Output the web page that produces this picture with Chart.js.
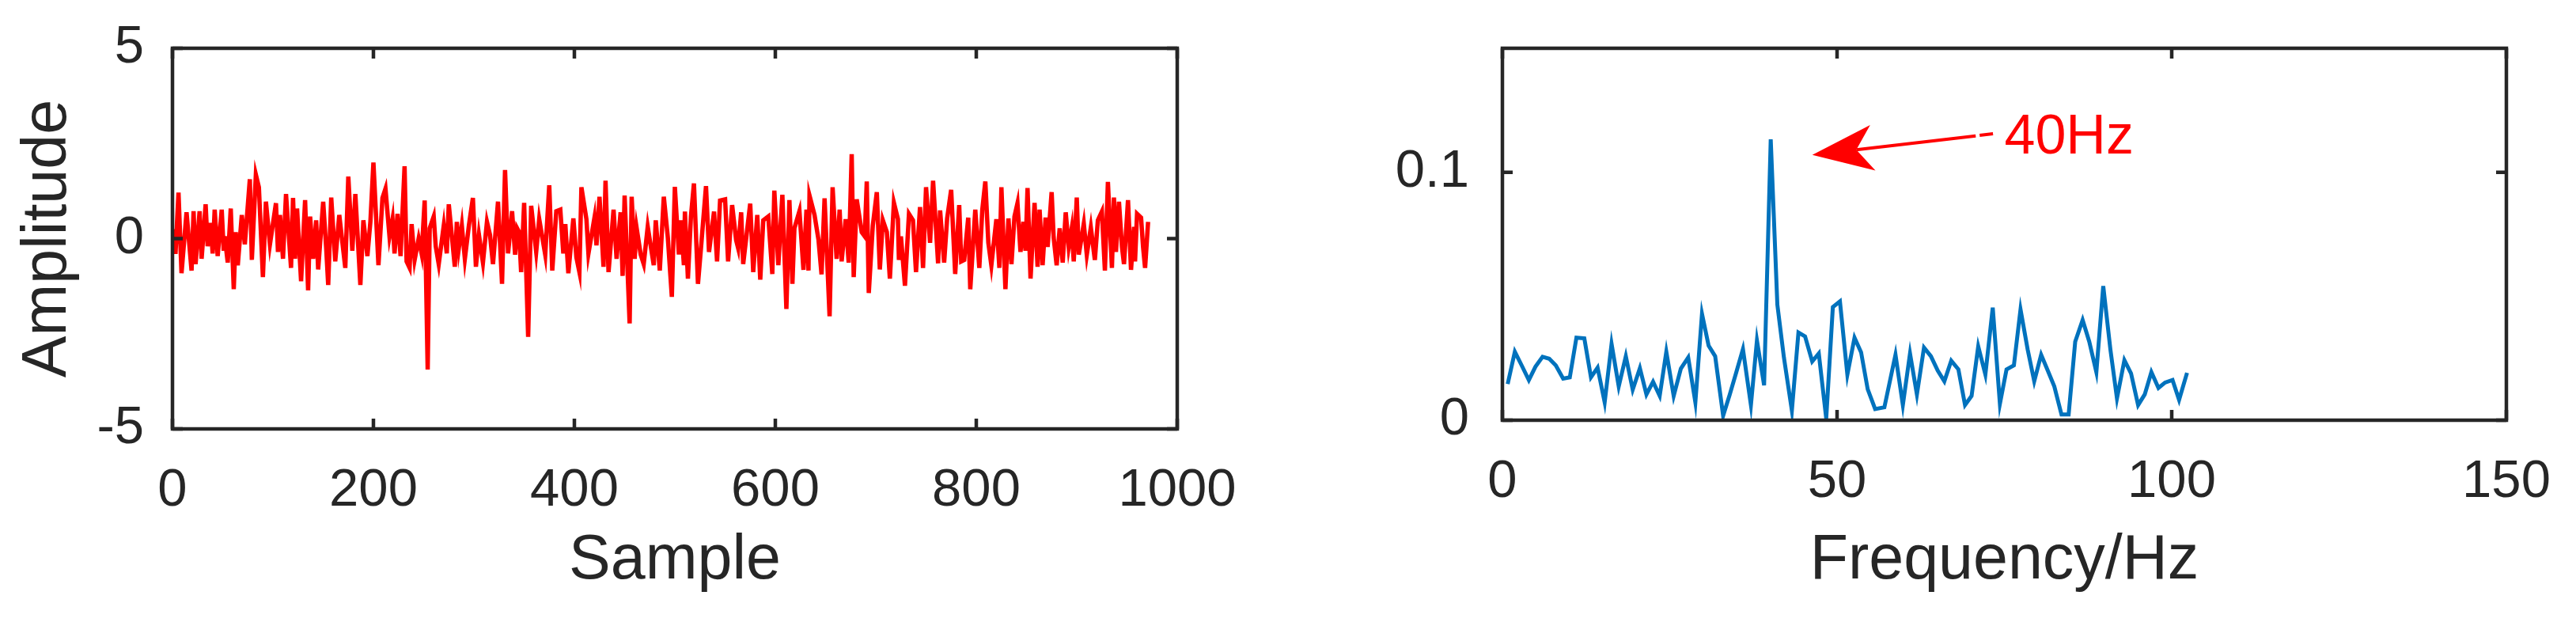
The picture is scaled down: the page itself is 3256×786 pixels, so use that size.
<!DOCTYPE html>
<html>
<head>
<meta charset="utf-8">
<script src="https://cdn.jsdelivr.net/npm/chart.js@4"></script>
<style>
	html, body { margin: 0; padding: 0; background: #fff; }
	body { width: 3256px; height: 786px; position: relative; overflow: hidden; }
	.box { position: absolute; top: 0; height: 786px; }
	#leftBox { left: 0; width: 1560px; }
	#rightBox { left: 1600px; width: 1656px; }
</style>
</head>
<body>
<div class="box" id="leftBox"><canvas id="signalChart"></canvas></div>
<div class="box" id="rightBox"><canvas id="spectrumChart"></canvas></div>
<script>
// Time signal (sample index / amplitude)
const sampleIdx = [0,3,6,9,14,19,21,23,27,29,33,35,38,40,42,45,49,51,52,55,58,61,63,65,69,72,77,79,83,86,90,93,97,103,105,107,110,113,118,120,122,124,128,132,135,137,140,143,145,150,153,155,158,162,166,172,175,179,182,187,190,194,197,200,205,209,212,216,219,221,224,227,231,233,236,238,241,245,248,251,254,256,260,262,265,270,273,275,281,283,285,288,291,295,299,302,305,309,313,316,319,324,328,331,
	334,338,341,343,345,347,350,354,357,362,365,371,375,378,382,386,389,391,394,399,402,405,407,412,414,420,422,425,429,431,434,439,442,446,448,450,455,457,460,462,466,469,473,479,481,485,489,493,497,500,504,506,509,510,513,516,519,523,526,531,534,539,542,545,550,553,557,561,563,566,568,575,578,582,585,588,593,597,599,603,607,611,614,617,619,624,628,631,633,634,639,643,646,649,654,657,661,
	664,666,670,673,676,678,681,686,689,691,693,697,701,704,707,711,714,718,722,723,725,729,733,737,740,744,747,750,754,757,762,764,768,771,775,779,783,785,788,792,794,799,803,806,809,812,815,820,823,825,829,832,835,838,841,844,847,849,851,854,858,861,863,866,869,871,875,877,880,883,886,889,892,895,897,900,902,907,910,914,918,921,925,928,931,935,937,939,942,945,947,951,954,957,958,960,964,966,968,971];
const amplitude = [0.25,-0.4,1.21,-0.91,0.69,-0.84,0.72,-0.67,0.72,-0.53,0.9,-0.2,0.41,-0.39,0.76,-0.46,0.76,-0.32,0.06,-0.63,0.79,-1.33,0.17,-0.7,0.62,-0.15,1.56,-0.56,1.68,1.35,-1.01,0.97,-0.15,0.93,-0.35,0.62,-0.53,1.17,-0.77,1.07,-0.53,0.79,-1.12,1.01,-1.36,0.58,-0.53,0.48,-0.81,0.97,-0.25,-1.22,1.08,-0.6,0.62,-0.77,1.63,-0.32,1.17,-1.22,0.48,-0.46,0.45,2.0,-0.7,1.07,1.31,0.06,0.51,-0.39,0.65,-0.46,1.9,-0.6,-0.77,0.38,-0.56,0.0,-0.4,1.0,-3.44,0.27,0.58,-0.2,-0.67,0.34,-0.39,0.9,-0.74,0.44,-0.25,0.34,-0.53,0.34,1.07,-0.74,0.1,-0.63,0.44,0.1,-0.67,0.97,-1.19,1.8,
	-0.39,0.72,-0.42,0.27,0.17,-0.88,0.94,-2.58,0.86,-0.35,0.51,-0.42,1.4,-0.84,0.72,0.76,-0.39,0.38,-0.91,0.53,-0.49,-0.88,1.35,0.51,-0.39,0.55,-0.18,1.1,-0.74,1.52,-0.88,0.76,-0.53,0.69,-0.98,1.13,-2.23,1.1,-0.53,0.27,-0.42,-0.67,0.31,-0.7,0.48,-0.84,1.1,0.03,-1.53,1.36,-0.42,0.48,-0.7,0.71,-1.05,0.58,1.45,-1.19,-0.25,1.38,-0.35,0.71,-0.6,1.0,1.03,-0.6,0.88,-0.04,-0.25,0.69,-0.67,0.92,-0.88,0.62,-1.08,0.48,0.58,-0.93,1.26,-0.7,1.15,-1.85,1.01,-1.19,0.27,0.72,-0.82,0.76,-0.84,1.13,0.62,-0.04,-0.94,1.06,-2.04,1.35,-0.53,
	0.76,-0.6,0.51,-0.63,2.22,-1.01,1.03,0.17,0.06,1.5,-1.43,0.34,1.22,-0.81,0.48,0.17,-1.05,0.94,0.51,-0.56,0.06,-1.24,0.65,0.48,-0.88,0.83,-0.77,1.35,-0.11,1.52,-0.65,0.74,-0.63,0.53,1.28,-0.93,0.88,-0.6,-0.56,0.55,-1.33,0.76,-0.77,0.76,1.5,-0.11,-0.7,0.51,-0.77,1.35,-1.33,0.53,-0.67,0.58,0.93,-0.35,0.44,-0.32,1.33,-1.05,0.94,-0.74,0.76,-0.7,0.55,-0.22,1.22,0.03,-0.7,0.27,-0.63,0.69,-0.22,0.27,-0.6,1.08,-0.42,0.39,-0.42,0.29,-0.56,0.48,0.71,-0.84,1.49,-0.77,1.08,-0.35,0.97,-0.22,-0.67,1.01,-0.82,0.31,-0.6,0.65,0.55,-0.22,-0.77,0.44];

// Spectrum (frequency in Hz / magnitude)
const specHz = [0.79,1.86,2.88,3.95,4.94,6.0,6.99,7.98,9.08,10.07,11.06,12.24,13.23,14.22,15.28,16.31,17.38,18.44,19.47,20.54,21.52,22.51,23.5,24.49,25.59,26.66,27.76,28.83,29.82,30.81,31.79,32.98,33.97,34.95,35.94,37.13,38.03,39.1,40.09,41.08,42.06,43.25,44.23,45.22,46.29,47.27,48.38,49.37,50.43,51.54,52.61,53.59,54.58,55.69,57.07,58.73,59.83,60.9,61.93,62.99,64.02,65.04,66.03,67.06,68.13,69.12,70.1,71.09,72.16,73.26,74.33,75.32,76.42,77.41,78.48,79.46,80.49,81.48,82.46,83.53,84.6,85.58,86.69,87.68,88.74,89.77,90.84,91.82,92.93,93.92,94.98,95.97,96.96,98.02,99.01,100.12,101.1,102.29];
const specAmp = [0.0146,0.0276,0.0221,0.0162,0.0216,0.0256,0.0248,0.0221,0.0168,0.0173,0.0333,0.0330,0.0173,0.0212,0.0072,0.0308,0.0136,0.0258,0.0123,0.0210,0.0104,0.0155,0.0098,0.0276,0.0098,0.0208,0.0253,0.0072,0.0429,0.0301,0.0258,0.0018,0.0104,0.0194,0.0287,0.0061,0.0322,0.0141,0.1133,0.0466,0.0253,0.0039,0.0354,0.0338,0.0237,0.0269,0.0007,0.0456,0.0479,0.0184,0.0333,0.0274,0.0125,0.0045,0.0052,0.0264,0.0061,0.0269,0.0104,0.0293,0.0258,0.0200,0.0157,0.0240,0.0205,0.0061,0.0098,0.0298,0.0184,0.0454,0.0066,0.0205,0.0221,0.0447,0.0285,0.0157,0.0264,0.0200,0.0136,0.0023,0.0023,0.0317,0.0404,0.0317,0.0194,0.0541,0.0285,0.0088,0.0242,0.0189,0.0061,0.0104,0.0194,0.0130,0.0152,0.0162,0.0082,0.0191];

// Axis ticks
const signalXTicks = [0, 200, 400, 600, 800, 1000];
const signalYTicks = [-5, 0, 5];
const specXTicks = [0, 50, 100, 150];
const specYTicks = [0, 0.1];

// Annotation (data coordinates of the right plot)
const peakLabel = '40Hz';
const arrowTip = { x: 46.3, y: 0.107 };
const arrowTail = { x: 73.3, y: 0.1155 };
const labelPos = { x: 75.0, y: 0.1075 };

const AXIS_COLOR = '#262626';
const FONT = 'Liberation Sans, Arial, Helvetica, sans-serif';
const TICK_LEN = 13;

Chart.defaults.animation = false;
Chart.defaults.font.family = FONT;
Chart.defaults.color = AXIS_COLOR;

// MATLAB-style box with inward ticks on all four sides
const boxPlugin = {
	id: 'matlabBox',
	afterDraw(chart) {
		let { ctx, chartArea: a, scales: { x, y } } = chart;
		ctx.save();
		ctx.strokeStyle = AXIS_COLOR;
		ctx.lineWidth = 4.5;
		ctx.beginPath();
		for (let t of x.ticks) {
			let px = x.getPixelForValue(t.value);
			ctx.moveTo(px, a.bottom); ctx.lineTo(px, a.bottom - TICK_LEN);
			ctx.moveTo(px, a.top); ctx.lineTo(px, a.top + TICK_LEN);
		}
		for (let t of y.ticks) {
			let py = y.getPixelForValue(t.value);
			ctx.moveTo(a.left, py); ctx.lineTo(a.left + TICK_LEN, py);
			ctx.moveTo(a.right, py); ctx.lineTo(a.right - TICK_LEN, py);
		}
		ctx.stroke();
		ctx.strokeRect(a.left, a.top, a.right - a.left, a.bottom - a.top);
		ctx.restore();
	}
};

// Red arrow + label pointing at the peak
const arrowPlugin = {
	id: 'peakArrow',
	afterDraw(chart) {
		if (!chart.options.plugins.peakArrow) return;
		let { ctx, scales: { x, y } } = chart;
		let tx = x.getPixelForValue(arrowTip.x), ty = y.getPixelForValue(arrowTip.y);
		let ex = x.getPixelForValue(arrowTail.x), ey = y.getPixelForValue(arrowTail.y);
		let len = Math.hypot(ex - tx, ey - ty);
		let dx = (ex - tx) / len, dy = (ey - ty) / len;
		let nx = -dy, ny = dx;
		let L = 77, W = 29, notch = 56;

		ctx.save();
		ctx.fillStyle = '#ff0000';
		ctx.strokeStyle = '#ff0000';
		ctx.beginPath();
		ctx.moveTo(tx, ty);
		ctx.lineTo(tx + L * dx + W * nx, ty + L * dy + W * ny);
		ctx.lineTo(tx + notch * dx, ty + notch * dy);
		ctx.lineTo(tx + L * dx - W * nx, ty + L * dy - W * ny);
		ctx.closePath();
		ctx.fill();

		ctx.lineWidth = 4;
		ctx.beginPath();
		ctx.moveTo(tx + notch * dx, ty + notch * dy);
		ctx.lineTo(ex - 22 * dx, ey - 22 * dy);
		ctx.moveTo(ex - 17 * dx, ey - 17 * dy);
		ctx.lineTo(ex, ey);
		ctx.stroke();

		ctx.font = '70px ' + FONT;
		ctx.textAlign = 'left';
		ctx.textBaseline = 'alphabetic';
		ctx.fillText(peakLabel, x.getPixelForValue(labelPos.x), y.getPixelForValue(labelPos.y));
		ctx.restore();
	}
};

function axis(min, max, ticks, size, title) {
	return {
		type: 'linear',
		min: min,
		max: max,
		afterBuildTicks: s => { s.ticks = ticks.map(v => ({ value: v })); },
		afterFit: s => {
			if (size.height) s.height = size.height;
			if (size.width) s.width = size.width;
			s.paddingLeft = 0; s.paddingRight = 0; s.paddingTop = 0; s.paddingBottom = 0;
		},
		grid: { display: false },
		border: { display: false },
		ticks: {
			font: { size: 67 }, color: AXIS_COLOR, maxRotation: 0, minRotation: 0,
			autoSkip: false, padding: 30, callback: v => String(v)
		},
		title: title ? { display: true, text: title.text, font: { size: 79 }, color: AXIS_COLOR, padding: title.padding } : { display: false }
	};
}

function makeChart(id, cfg) {
	return new Chart(document.getElementById(id), {
		type: 'line',
		data: {
			datasets: [{
				data: cfg.xs.map((v, i) => ({ x: v, y: cfg.ys[i] })),
				borderColor: cfg.color,
				borderWidth: cfg.width,
				pointRadius: 0,
				tension: 0,
				fill: false
			}]
		},
		options: {
			responsive: true,
			maintainAspectRatio: false,
			layout: { padding: cfg.padding },
			plugins: { legend: { display: false }, tooltip: { enabled: false }, peakArrow: cfg.arrow },
			scales: { x: cfg.x, y: cfg.y }
		},
		plugins: [boxPlugin, arrowPlugin]
	});
}

window.onload = () => {
	let lx = axis(0, 1000, signalXTicks, { height: 244 }, { text: 'Sample', padding: { bottom: 29 } });
	let ly = axis(-5, 5, signalYTicks, { width: 218 }, { text: 'Amplitude', padding: { top: 14 } });
	ly.ticks.padding = 28;
	makeChart('signalChart', {
		xs: sampleIdx, ys: amplitude, color: '#ff0000', width: 5.5,
		padding: { top: 61, right: 72, left: 0, bottom: 0 },
		x: lx, y: ly, arrow: false
	});

	let rx = axis(0, 150, specXTicks, { height: 255 }, { text: 'Frequency/Hz', padding: { bottom: 29 } });
	let ry = axis(0, 0.15, specYTicks, { width: 299 }, null);
	ry.ticks.padding = 34;
	makeChart('spectrumChart', {
		xs: specHz, ys: specAmp, color: '#0072BD', width: 5,
		padding: { top: 61, right: 88, left: 0, bottom: 0 },
		x: rx, y: ry, arrow: true
	});
};
</script>
</body>
</html>
